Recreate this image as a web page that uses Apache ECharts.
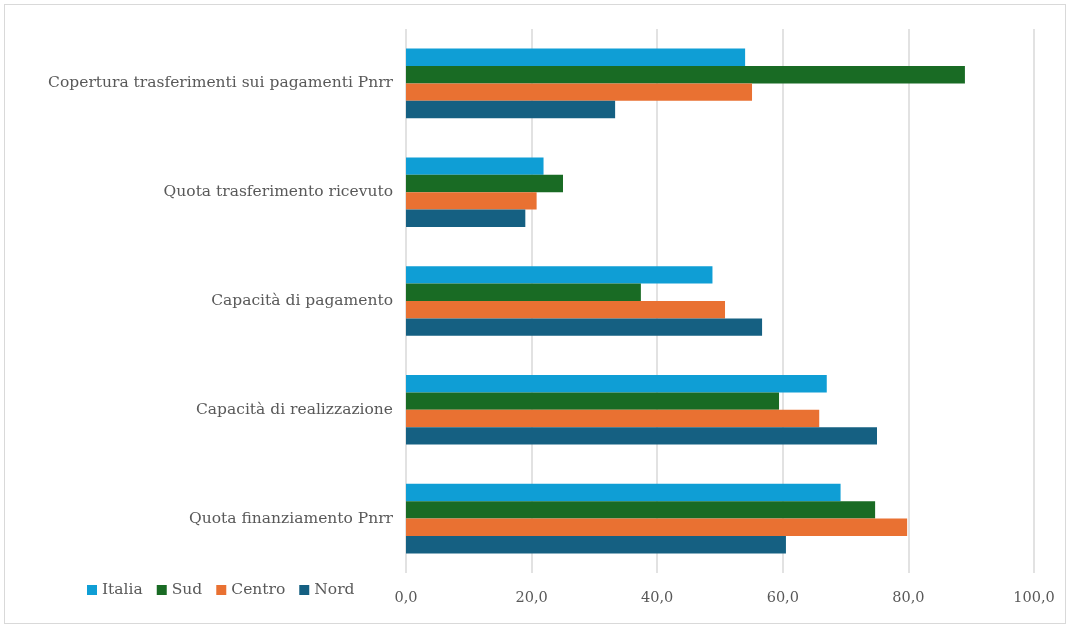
<!DOCTYPE html>
<html><head><meta charset="utf-8">
<script src="https://cdn.jsdelivr.net/npm/echarts@6/dist/echarts.min.js"></script>
<style>
html,body{margin:0;padding:0;background:#fff;}
#frame{position:absolute;left:4px;top:4px;width:1062px;height:620px;border:1px solid #d9d9d9;box-sizing:border-box;}
#c{position:absolute;left:0;top:0;width:1071px;height:629px;}
</style></head>
<body>
<div id="frame"></div>
<div id="c"></div>
<script>
const categories = ["Quota finanziamento Pnrr","Capacità di realizzazione","Capacità di pagamento","Quota trasferimento ricevuto","Copertura trasferimenti sui pagamenti Pnrr"];
const nord   = [60.5, 75.0, 56.7, 19.0, 33.3];
const centro = [79.8, 65.8, 50.8, 20.8, 55.1];
const sud    = [74.7, 59.4, 37.4, 25.0, 89.0];
const italia = [69.2, 67.0, 48.8, 21.9, 54.0];
const legendOrder = ["Italia","Sud","Centro","Nord"];

const chart = echarts.init(document.getElementById('c'), null, {renderer:'canvas'});
const font = "DejaVu Serif";
const mk = (name, data, color) => ({name, type:'bar', data, itemStyle:{color}, barGap:'0%', barCategoryGap:'36%'});
chart.setOption({
  animation:false,
  textStyle:{fontFamily:font},
  grid:{left:406, right:37, top:29, bottom:56, containLabel:false},
  legend:{data:legendOrder, left:82, top:577, itemWidth:10, itemHeight:10, itemGap:14,
    icon:'rect', textStyle:{fontFamily:font, fontSize:15.5, color:'#595959'}},
  xAxis:{type:'value', min:0, max:100, interval:20,
    axisLine:{show:false}, axisTick:{show:false},
    splitLine:{lineStyle:{color:'#d9d9d9', width:1.5}},
    axisLabel:{formatter:v=>v.toFixed(1).replace('.',','), fontFamily:font, fontSize:14.5, color:'#595959', margin:18}},
  yAxis:{type:'category', data:categories,
    axisLine:{show:false}, axisTick:{show:false},
    axisLabel:{fontFamily:font, fontSize:15.5, color:'#595959', margin:13}},
  series:[
    mk('Italia', italia, '#0F9ED5'),
    mk('Sud', sud, '#196B24'),
    mk('Centro', centro, '#E97132'),
    mk('Nord', nord, '#156082')
  ]
});
</script>
</body></html>
